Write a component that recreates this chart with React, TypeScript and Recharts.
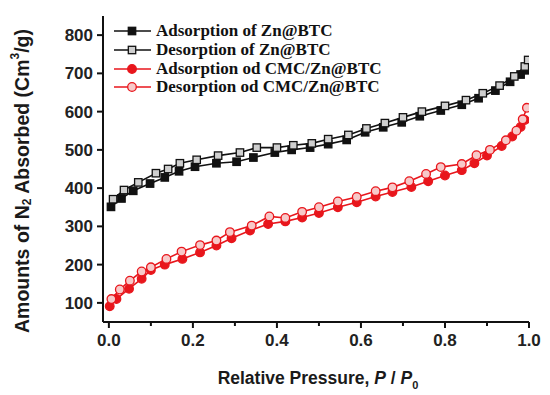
import React from "react"
import { LineChart, Line, XAxis, YAxis, Legend, Label } from "recharts"

// relative pressure (P/P0) and N2 volume
const znAdsX = [0.005, 0.03, 0.058, 0.098, 0.133, 0.167, 0.205, 0.256, 0.304, 0.344, 0.395, 0.435, 0.479, 0.522, 0.566, 0.61, 0.653, 0.697, 0.74, 0.79, 0.84, 0.88, 0.92, 0.955, 0.98, 0.995]
const znAdsY = [351, 373, 393, 412, 428, 444, 456, 465, 469, 480, 493, 500, 506, 515, 526, 546, 559, 572, 588, 603, 618, 635, 655, 678, 697, 708]

const znDesX = [0.01, 0.036, 0.07, 0.112, 0.141, 0.169, 0.209, 0.26, 0.312, 0.352, 0.4, 0.439, 0.483, 0.522, 0.57, 0.613, 0.657, 0.7, 0.745, 0.8, 0.85, 0.89, 0.93, 0.965, 0.99, 0.998]
const znDesY = [371, 395, 415, 439, 450, 465, 474, 485, 493, 506, 506, 512, 517, 528, 539, 556, 570, 585, 600, 615, 630, 648, 668, 692, 718, 735]

const cmcAdsX = [0.002, 0.018, 0.048, 0.078, 0.1, 0.133, 0.175, 0.217, 0.256, 0.292, 0.336, 0.379, 0.42, 0.46, 0.5, 0.545, 0.59, 0.635, 0.675, 0.72, 0.76, 0.8, 0.84, 0.87, 0.9, 0.935, 0.96, 0.98, 0.99]
const cmcAdsY = [91, 110, 137, 163, 186, 200, 215, 232, 250, 269, 289, 306, 313, 323, 335, 350, 363, 378, 390, 403, 418, 433, 447, 465, 485, 510, 535, 560, 578]

const cmcDesX = [0.006, 0.026, 0.05, 0.078, 0.1, 0.137, 0.173, 0.217, 0.256, 0.288, 0.34, 0.382, 0.42, 0.46, 0.5, 0.545, 0.59, 0.635, 0.675, 0.715, 0.755, 0.79, 0.84, 0.875, 0.907, 0.945, 0.97, 0.985, 0.995]
const cmcDesY = [110, 135, 158, 182, 193, 215, 234, 251, 263, 285, 302, 326, 322, 338, 350, 365, 377, 392, 402, 418, 437, 455, 463, 486, 500, 525, 550, 580, 610]

const xTicks = [0, 0.1, 0.2, 0.3, 0.4, 0.5, 0.6, 0.7, 0.8, 0.9, 1.0]
const yTicks = [100, 150, 200, 250, 300, 350, 400, 450, 500, 550, 600, 650, 700, 750, 800]

const seriesNames = [
  "Adsorption of Zn@BTC",
  "Desorption of Zn@BTC",
  "Adsorption od CMC/Zn@BTC",
  "Desorption od CMC/Zn@BTC",
]

const toPoints = (xs: number[], ys: number[]) => xs.map((x, i) => ({ x, y: ys[i] }))

const BLACK = "#111111"
const RED = "#e8161c"
const tickFont = { fontFamily: "Liberation Sans, Arial, sans-serif", fontWeight: 700, fontSize: 17, fill: "#222" }

const markers = [
  { color: BLACK, shape: "square", fill: BLACK },
  { color: BLACK, shape: "square", fill: "#cfcfcf" },
  { color: RED, shape: "circle", fill: RED },
  { color: RED, shape: "circle", fill: "#f7c9c9" },
]

function Marker({ cx, cy, idx }: { cx: number; cy: number; idx: number }) {
  const m = markers[idx]
  if (m.shape === "square") {
    return <rect x={cx - 3.7} y={cy - 3.7} width={7.4} height={7.4} fill={m.fill} stroke={m.color} strokeWidth={1.3} />
  }
  return <circle cx={cx} cy={cy} r={4.3} fill={m.fill} stroke={m.color} strokeWidth={1.3} />
}

const makeDot = (idx: number) => (props: any) => {
  if (props.cx == null || props.cy == null) return <g key={props.index} />
  return <Marker key={props.index} cx={props.cx} cy={props.cy} idx={idx} />
}

function XTick(props: any) {
  const { x, y, payload } = props
  const v = payload.value
  const major = Math.round(v * 10) % 2 === 0
  return (
    <g>
      <line x1={x} x2={x} y1={y} y2={y + (major ? 6 : 4)} stroke={BLACK} strokeWidth={2} />
      {major && (
        <text x={x} y={y + 24} textAnchor="middle" {...tickFont}>
          {v.toFixed(1)}
        </text>
      )}
    </g>
  )
}

function YTick(props: any) {
  const { x, y, payload } = props
  const v = payload.value
  const major = v % 100 === 0
  return (
    <g>
      <line x1={x} x2={x - (major ? 6 : 4)} y1={y} y2={y} stroke={BLACK} strokeWidth={2} />
      {major && (
        <text x={x - 10} y={y + 6} textAnchor="end" {...tickFont}>
          {v}
        </text>
      )}
    </g>
  )
}

function renderLegend() {
  return (
    <div style={{ fontFamily: "Liberation Serif, Times New Roman, serif", fontWeight: 700, fontSize: 17, color: "#111" }}>
      {seriesNames.map((name, i) => (
        <div key={name} style={{ display: "flex", alignItems: "center", height: 18.7, whiteSpace: "nowrap" }}>
          <svg width={44} height={14}>
            <line x1={2} x2={39} y1={7} y2={7} stroke={markers[i].color} strokeWidth={1.6} />
            <Marker cx={20} cy={7} idx={i} />
          </svg>
          <span>{name}</span>
        </div>
      ))}
    </div>
  )
}

function YTitle(props: any) {
  const vb = props.viewBox
  const cx = 22
  const cy = vb.y + vb.height / 2 + 12
  return (
    <text
      x={cx}
      y={cy}
      transform={`rotate(-90, ${cx}, ${cy})`}
      textAnchor="middle"
      dominantBaseline="central"
      fontFamily="Liberation Sans, Arial, sans-serif"
      fontWeight={700}
      fontSize={19.5}
      fill="#1a1a1a"
    >
      Amounts of N<tspan fontSize={12} dy={5}>2</tspan>
      <tspan dy={-5}> Absorbed (Cm</tspan>
      <tspan fontSize={12} dy={-7}>3</tspan>
      <tspan dy={7}>/g)</tspan>
    </text>
  )
}

function XTitle(props: any) {
  const vb = props.viewBox
  return (
    <text
      x={318}
      y={vb.y + 62}
      textAnchor="middle"
      fontFamily="Liberation Sans, Arial, sans-serif"
      fontWeight={700}
      fontSize={17.5}
      fill="#1a1a1a"
    >
      Relative Pressure, <tspan fontStyle="italic">P</tspan> / <tspan fontStyle="italic">P</tspan>
      <tspan fontSize={11} dy={5}>0</tspan>
    </text>
  )
}

export default function App() {
  const series = [
    toPoints(znAdsX, znAdsY),
    toPoints(znDesX, znDesY),
    toPoints(cmcAdsX, cmcAdsY),
    toPoints(cmcDesX, cmcDesY),
  ]
  return (
    <div style={{ position: "absolute", left: 0, top: 0, background: "#fff" }}>
      <LineChart width={550} height={395} margin={{ top: 16, right: 21, bottom: 0, left: 0 }}>
        <XAxis
          dataKey="x"
          type="number"
          domain={[-0.014, 1.0]}
          ticks={xTicks}
          allowDataOverflow
          height={73}
          tickSize={0}
          tickMargin={0}
          tickLine={false}
          axisLine={{ stroke: BLACK, strokeWidth: 2 }}
          tick={XTick}
        >
          <Label content={XTitle} />
        </XAxis>
        <XAxis xAxisId="top" orientation="top" dataKey="x" type="number" domain={[-0.014, 1.0]} height={0} tick={false} tickLine={false} axisLine={{ stroke: BLACK, strokeWidth: 2 }} />
        <YAxis
          dataKey="y"
          type="number"
          domain={[50, 850]}
          ticks={yTicks}
          allowDataOverflow
          width={103}
          tickSize={0}
          tickMargin={0}
          tickLine={false}
          axisLine={{ stroke: BLACK, strokeWidth: 2 }}
          tick={YTick}
        >
          <Label content={YTitle} />
        </YAxis>
        <YAxis yAxisId="right" orientation="right" type="number" domain={[50, 850]} width={0} tick={false} tickLine={false} axisLine={{ stroke: BLACK, strokeWidth: 2 }} />
        <Legend
          layout="vertical"
          align="center"
          verticalAlign="middle"
          content={renderLegend}
          wrapperStyle={{ top: 22, left: 112, width: 300, height: 80 }}
        />
        {series.map((data, i) => (
          <Line
            key={seriesNames[i]}
            name={seriesNames[i]}
            data={data}
            dataKey="y"
            type="linear"
            stroke={markers[i].color}
            strokeWidth={1.6}
            dot={makeDot(i)}
            activeDot={false}
            isAnimationActive={false}
          />
        ))}
      </LineChart>
    </div>
  )
}
